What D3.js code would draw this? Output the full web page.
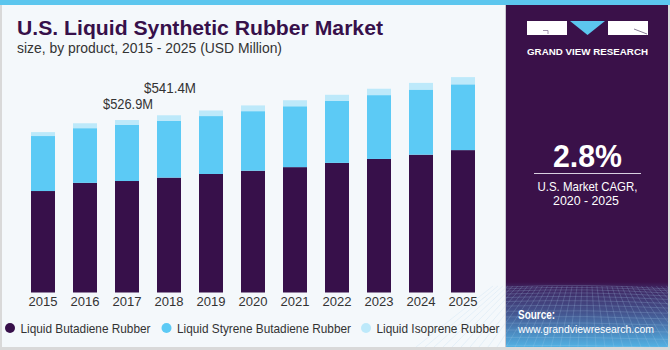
<!DOCTYPE html>
<html><head><meta charset="utf-8">
<script src="https://cdn.jsdelivr.net/npm/d3@7"></script>
<style>html,body{margin:0;padding:0;background:#fff;}svg{display:block;}</style>
</head><body><div id="chart"></div>
<script>
const years = ["2015","2016","2017","2018","2019","2020","2021","2022","2023","2024","2025"];
const butadiene = [310, 335, 340.6, 351, 362, 372, 383, 396, 408, 421, 435];
const styreneButadiene = [168, 167, 171.1, 174, 177, 182, 186, 189, 195, 199, 201];
const isoprene = [12, 15, 15.2, 16.4, 17, 17.5, 18.3, 19, 19.5, 20.4, 22];
const seriesNames = ["Liquid Butadiene Rubber","Liquid Styrene Butadiene Rubber","Liquid Isoprene Rubber"];
const colors = ["#37104a","#5ccaf5","#bde9fa"];
const annotations = [{year:"2017", label:"$526.9M"},{year:"2018", label:"$541.4M"}];

const W = 670, H = 350;
const svg = d3.select("#chart").append("svg").attr("width", W).attr("height", H);
const font = "'Liberation Sans', Arial, sans-serif";

function txt(xp, yp, s, size, opts = {}) {
  const t = svg.append("text").attr("x", xp).attr("y", yp).attr("font-family", font)
    .attr("font-size", size).attr("fill", opts.fill || "#333").text(s);
  if (opts.bold) t.attr("font-weight", "bold");
  if (opts.anchor) t.attr("text-anchor", opts.anchor);
  if (opts.len) t.attr("textLength", opts.len).attr("lengthAdjust", "spacingAndGlyphs");
  return t;
}

// backgrounds
svg.append("rect").attr("x",0).attr("y",0).attr("width",W).attr("height",H).attr("fill","#d9d9d9");
svg.append("rect").attr("x",2).attr("y",0).attr("width",503).attr("height",347).attr("fill","#f4f8fb");
svg.append("rect").attr("x",0).attr("y",0).attr("width",W).attr("height",5).attr("fill","#5cc6ee");

// right panel
const defs = svg.append("defs");
const g1 = defs.append("linearGradient").attr("id","panelGrad").attr("x1",0).attr("y1",0).attr("x2",0).attr("y2",1);
g1.append("stop").attr("offset","0%").attr("stop-color","#3a1149");
g1.append("stop").attr("offset","81%").attr("stop-color","#3a1149");
g1.append("stop").attr("offset","82.5%").attr("stop-color","#3e2460");
g1.append("stop").attr("offset","90%").attr("stop-color","#44548e");
g1.append("stop").attr("offset","100%").attr("stop-color","#52b2e4");
svg.append("rect").attr("x",506).attr("y",5).attr("width",162).attr("height",342).attr("fill","url(#panelGrad)");
svg.append("line").attr("x1",505.5).attr("x2",505.5).attr("y1",5).attr("y2",347).attr("stroke","#c8c8d0").attr("stroke-width",1);

// grid texture in lower panel
const tex = svg.append("g").attr("stroke","#a9cdee").attr("stroke-opacity",0.3).attr("stroke-width",0.7).attr("fill","none");
for (let i = 0; i < 16; i++) {
  const yy = 287 + i * i * 0.28 + i * 1.5;
  if (yy > 347) break;
  tex.append("path").attr("d", `M506,${yy} Q587,${yy - 4 + i*0.3} 668,${yy + 2}`);
}
for (let i = -10; i <= 26; i++) {
  const xb = 506 + i * 9;
  const xt = 587 + (xb - 587) * 0.55;
  tex.append("line").attr("x1", xt).attr("y1", 286).attr("x2", xb).attr("y2", 347);
}

// CAGR
txt(587.5, 167, "2.8%", 32, {fill:"#fff", bold:true, anchor:"middle", len:69});
svg.append("line").attr("x1",534).attr("x2",641).attr("y1",173.5).attr("y2",173.5).attr("stroke","#d8d0e0").attr("stroke-width",1.2);
txt(587.5, 191, "U.S. Market CAGR,", 13, {fill:"#fff", anchor:"middle", len:100});
txt(586, 205, "2020 - 2025", 13, {fill:"#fff", anchor:"middle", len:66});

// source
txt(518, 319, "Source:", 12, {fill:"#fff", bold:true, len:37});
txt(518, 333, "www.grandviewresearch.com", 11.5, {fill:"#fff", len:136});

// titles
txt(17, 35, "U.S. Liquid Synthetic Rubber Market", 19.5, {fill:"#37104a", bold:true, len:366});
txt(17, 53, "size, by product, 2015 - 2025 (USD Million)", 14, {fill:"#333", len:265});

// scales
const x = d3.scaleBand().domain(years).range([22, 484]).paddingInner(18/42).paddingOuter(9/42);
const y = d3.scaleLinear().domain([0, 700]).range([292.5, 292.5 - 700/3.055]);

const data = years.map((yr, i) => ({year: yr, a: butadiene[i], b: styreneButadiene[i], c: isoprene[i]}));
const stack = d3.stack().keys(["a","b","c"])(data);

const bars = svg.append("g");
stack.forEach((layer, li) => {
  bars.selectAll(null).data(layer).enter().append("rect")
    .attr("x", d => x(d.data.year))
    .attr("width", x.bandwidth())
    .attr("y", d => y(d[1]))
    .attr("height", d => y(d[0]) - y(d[1]))
    .attr("fill", colors[li]);
});

// x axis labels
const axis = d3.axisBottom(x).tickSize(0).tickPadding(0);
const ax = svg.append("g").attr("transform","translate(0,297)").call(axis);
ax.select(".domain").remove();
ax.selectAll("text").attr("font-family",font).attr("font-size",13).attr("fill","#333").attr("dy","0.71em")
  .attr("textLength", 29).attr("lengthAdjust","spacingAndGlyphs");

// annotations (staggered so they don't collide)
annotations.forEach((a, k) => {
  const i = years.indexOf(a.year);
  const total = butadiene[i] + styreneButadiene[i] + isoprene[i];
  txt(x(a.year) + x.bandwidth()/2 + 1, y(total) - 11 - 11 * k, a.label, 14, {anchor:"middle", len: 50 + 2*k});
});

// legend
const legX = [10, 166.5, 366];
const legLen = [130, 174, 123];
seriesNames.forEach((n, i) => {
  svg.append("circle").attr("cx", legX[i]).attr("cy", 328).attr("r", 5).attr("fill", colors[i]);
  txt(legX[i] + 10.5, 332.5, n, 13, {len: legLen[i]});
});

// logo
const logo = svg.append("g");
logo.append("path").attr("d","M527,21 H567 V35 H527 Z").style("fill","#ffffff").style("stroke","none");
logo.append("path").attr("d","M543,30.5 H548 V34").style("stroke","#8a7a98").style("stroke-width",0.8).style("fill","none");
logo.append("path").attr("d","M570,21 H605 L587.5,35 Z").style("fill","#5cc6ee");
logo.append("path").attr("d","M608,21 H648 V35 H608 Z").style("fill","#ffffff").style("stroke","none");
logo.append("path").attr("d","M634,29 L647,34").style("stroke","#6a5a7a").style("stroke-width",0.8);
txt(527, 55, "GRAND VIEW RESEARCH", 9.2, {fill:"#fff", bold:true, len:121});
</script></body></html>
